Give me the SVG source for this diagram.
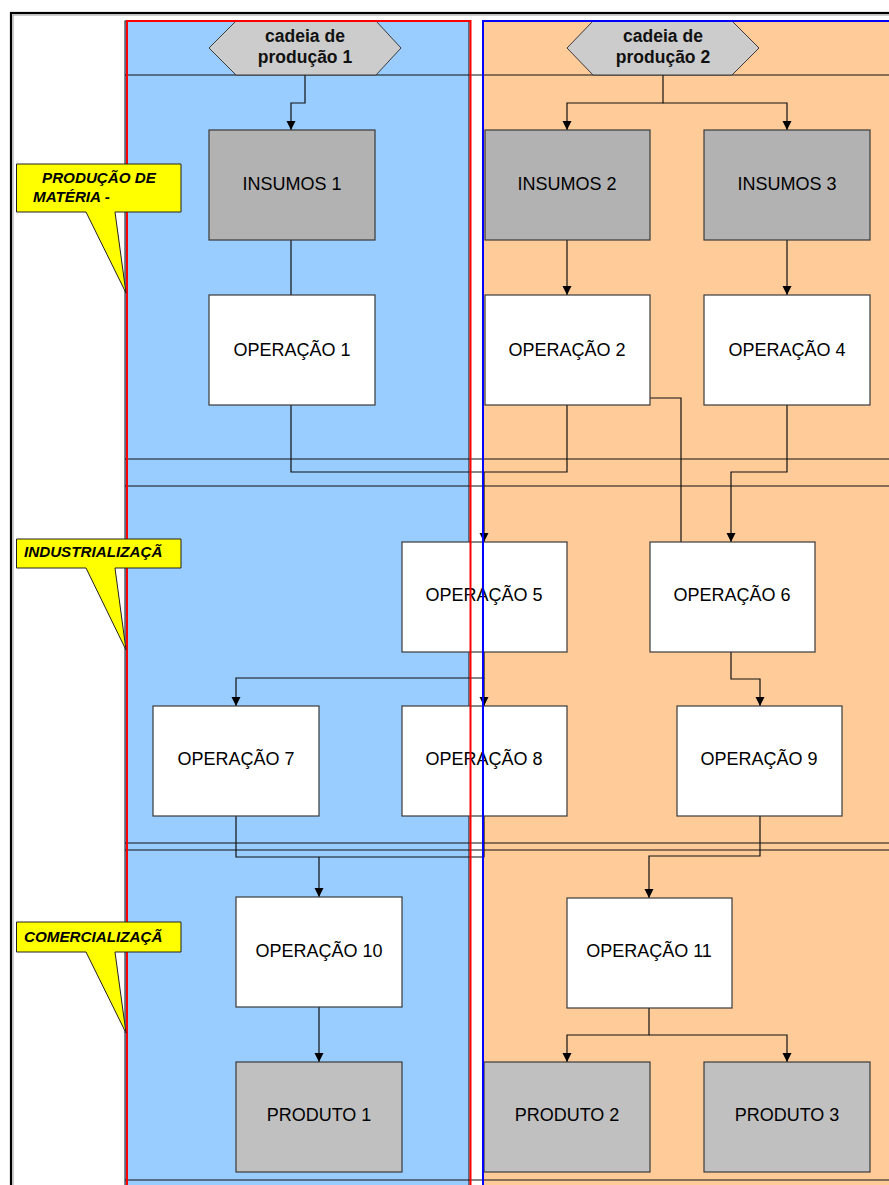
<svg xmlns="http://www.w3.org/2000/svg" width="889" height="1185" viewBox="0 0 889 1185">
  <defs>
    <marker id="arrow" markerUnits="userSpaceOnUse" markerWidth="10" markerHeight="10" refX="9" refY="4.5" orient="auto">
      <path d="M0,0 L9,4.5 L0,9 Z" fill="#000"/>
    </marker>
    <style>
      .box { stroke: #3a3a3a; stroke-width: 1.2; }
      .op { fill: #ffffff; }
      .ins { fill: #b2b2b2; }
      .prod { fill: #c0c0c0; }
      .lbl { font-family: "Liberation Sans", Arial, sans-serif; font-size: 18px; fill: #000; text-anchor: middle; }
      .hex { fill: #cccccc; stroke: #3a3a3a; stroke-width: 1; }
      .hexlbl { font-family: "Liberation Sans", Arial, sans-serif; font-size: 17.5px; font-weight: bold; fill: #111; text-anchor: middle; }
      .conn { fill: none; stroke: #111; stroke-width: 1.2; }
      .lane-line { stroke: #111; stroke-width: 1.2; }
      .callout { fill: #ffff00; stroke: #222; stroke-width: 1; }
      .calllbl { font-family: "Liberation Sans", Arial, sans-serif; font-size: 15.2px; font-weight: bold; font-style: italic; fill: #000; }
    </style>
  </defs>

  <!-- page background and frame -->
  <rect x="0" y="0" width="889" height="1185" fill="#ffffff"/>
  <rect x="11" y="13" width="890" height="1185" fill="none" stroke="#000" stroke-width="2.2"/>
  <path d="M13,1185 V15 H889" fill="none" stroke="#9a9a9a" stroke-width="1"/>

  <!-- swimlane fills -->
  <g id="lanes">
    <rect x="125" y="21" width="344" height="1170" fill="#99ccff" stroke="#111" stroke-width="1"/>
    <rect x="483" y="21" width="420" height="1170" fill="#ffcc99"/>
  </g>

  <!-- stage separators -->
  <g id="stage-lines">
    <line class="lane-line" x1="125" y1="75" x2="889" y2="75"/>
    <line class="lane-line" x1="125" y1="459" x2="889" y2="459"/>
    <line class="lane-line" x1="125" y1="486" x2="889" y2="486"/>
    <line class="lane-line" x1="125" y1="843" x2="889" y2="843"/>
    <line class="lane-line" x1="125" y1="850" x2="889" y2="850"/>
    <line class="lane-line" x1="125" y1="1180" x2="889" y2="1180"/>
  </g>

  <!-- connectors -->
  <g id="connectors">
    <path class="conn" d="M305,75 V103 H291 V130" marker-end="url(#arrow)"/>
    <path class="conn" d="M291,240 V295"/>
    <path class="conn" d="M663,75 V103 H567 V130" marker-end="url(#arrow)"/>
    <path class="conn" d="M663,103 H787 V130" marker-end="url(#arrow)"/>
    <path class="conn" d="M567,240 V295" marker-end="url(#arrow)"/>
    <path class="conn" d="M787,240 V295" marker-end="url(#arrow)"/>
    <path class="conn" d="M291,405 V472 H567 V405"/>
    <path class="conn" d="M484,472 V542" marker-end="url(#arrow)"/>
    <path class="conn" d="M650,398 H681 V542"/>
    <path class="conn" d="M787,405 V472 H731 V542" marker-end="url(#arrow)"/>
    <path class="conn" d="M484,652 V678 H236 V706" marker-end="url(#arrow)"/>
    <path class="conn" d="M484,678 V706" marker-end="url(#arrow)"/>
    <path class="conn" d="M731,652 V679 H760 V706" marker-end="url(#arrow)"/>
    <path class="conn" d="M236,816 V857 H484 V816"/>
    <path class="conn" d="M319,857 V897" marker-end="url(#arrow)"/>
    <path class="conn" d="M760,816 V856 H649 V898" marker-end="url(#arrow)"/>
    <path class="conn" d="M319,1007 V1062" marker-end="url(#arrow)"/>
    <path class="conn" d="M649,1008 V1035 H567 V1062" marker-end="url(#arrow)"/>
    <path class="conn" d="M649,1035 H787 V1062" marker-end="url(#arrow)"/>
  </g>

  <!-- chain headers -->
  <g id="cadeia1">
    <polygon class="hex" points="236,21 376,21 401,48 376,75 236,75 209,48"/>
    <text class="hexlbl" x="305" y="41.5">cadeia de</text>
    <text class="hexlbl" x="305" y="63">produção 1</text>
  </g>
  <g id="cadeia2">
    <polygon class="hex" points="593,21 732,21 759,48 732,75 593,75 567,48"/>
    <text class="hexlbl" x="663" y="41.5">cadeia de</text>
    <text class="hexlbl" x="663" y="63">produção 2</text>
  </g>

  <!-- process nodes -->
  <g id="insumos1"><rect class="box ins" x="209" y="130" width="166" height="110"/><text class="lbl" x="292" y="190">INSUMOS 1</text></g>
  <g id="insumos2"><rect class="box ins" x="485" y="130" width="165" height="110"/><text class="lbl" x="567" y="190">INSUMOS 2</text></g>
  <g id="insumos3"><rect class="box ins" x="704" y="130" width="166" height="110"/><text class="lbl" x="787" y="190">INSUMOS 3</text></g>

  <g id="operacao1"><rect class="box op" x="209" y="295" width="166" height="110"/><text class="lbl" x="292" y="356">OPERAÇÃO 1</text></g>
  <g id="operacao2"><rect class="box op" x="485" y="295" width="165" height="110"/><text class="lbl" x="567" y="356">OPERAÇÃO 2</text></g>
  <g id="operacao4"><rect class="box op" x="704" y="295" width="166" height="110"/><text class="lbl" x="787" y="356">OPERAÇÃO 4</text></g>

  <g id="operacao5"><rect class="box op" x="402" y="542" width="165" height="110"/><text class="lbl" x="484" y="601">OPERAÇÃO 5</text></g>
  <g id="operacao6"><rect class="box op" x="650" y="542" width="165" height="110"/><text class="lbl" x="732" y="601">OPERAÇÃO 6</text></g>

  <g id="operacao7"><rect class="box op" x="153" y="706" width="166" height="110"/><text class="lbl" x="236" y="765">OPERAÇÃO 7</text></g>
  <g id="operacao8"><rect class="box op" x="402" y="706" width="165" height="110"/><text class="lbl" x="484" y="765">OPERAÇÃO 8</text></g>
  <g id="operacao9"><rect class="box op" x="677" y="706" width="165" height="110"/><text class="lbl" x="759" y="765">OPERAÇÃO 9</text></g>

  <g id="operacao10"><rect class="box op" x="236" y="897" width="166" height="110"/><text class="lbl" x="319" y="957">OPERAÇÃO 10</text></g>
  <g id="operacao11"><rect class="box op" x="567" y="898" width="165" height="110"/><text class="lbl" x="649" y="957">OPERAÇÃO 11</text></g>

  <g id="produto1"><rect class="box prod" x="236" y="1062" width="166" height="110"/><text class="lbl" x="319" y="1121">PRODUTO 1</text></g>
  <g id="produto2"><rect class="box prod" x="484" y="1062" width="166" height="110"/><text class="lbl" x="567" y="1121">PRODUTO 2</text></g>
  <g id="produto3"><rect class="box prod" x="704" y="1062" width="166" height="110"/><text class="lbl" x="787" y="1121">PRODUTO 3</text></g>

  <!-- lane outlines drawn over the nodes -->
  <g id="lane-borders">
    <rect x="127" y="21" width="343.5" height="1175" fill="none" stroke="#ff0000" stroke-width="2"/>
    <rect x="483" y="21" width="420" height="1175" fill="none" stroke="#0000ff" stroke-width="2"/>
  </g>

  <!-- stage callouts -->
  <g id="callout-producao">
    <path class="callout" d="M16.5,164 H181 V212 H115 L126,293 L86,212 H16.5 Z"/>
    <text class="calllbl" x="42" y="183">PRODUÇÃO DE</text>
    <text class="calllbl" x="33" y="202">MATÉRIA -</text>
  </g>
  <g id="callout-industrializacao">
    <path class="callout" d="M16.5,539 H181 V568 H115 L126,650 L86,568 H16.5 Z"/>
    <text class="calllbl" x="24" y="557">INDUSTRIALIZAÇÃ</text>
  </g>
  <g id="callout-comercializacao">
    <path class="callout" d="M16.5,922 H181 V952 H115 L126,1033 L86,952 H16.5 Z"/>
    <text class="calllbl" x="24" y="942">COMERCIALIZAÇÃ</text>
  </g>
</svg>
